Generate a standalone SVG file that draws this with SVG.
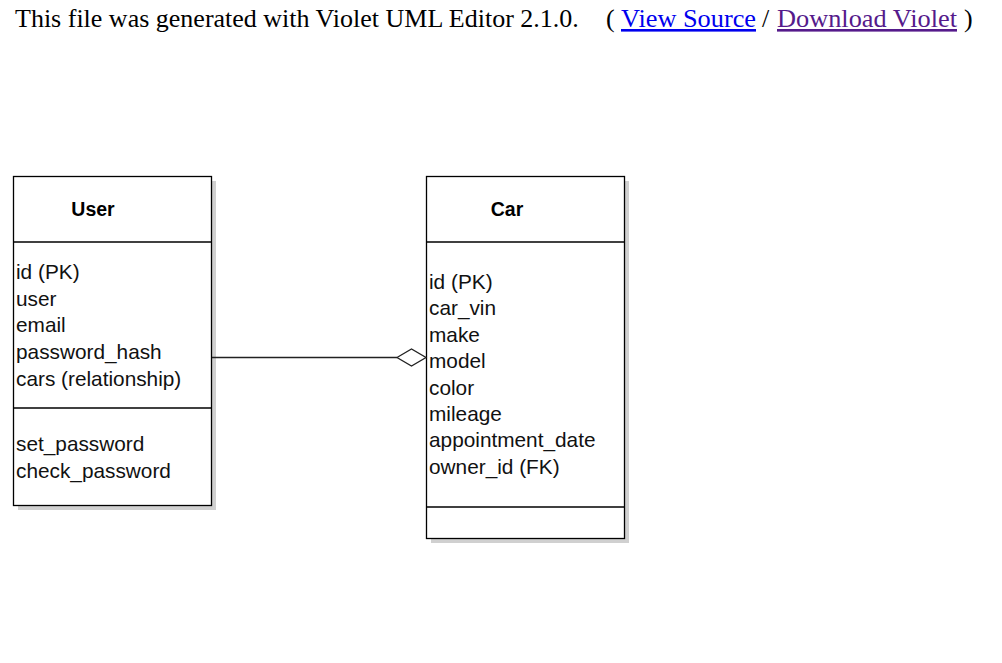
<svg xmlns="http://www.w3.org/2000/svg" width="1002" height="663" viewBox="0 0 1002 663">
<style>
.hdr{font-family:"Times New Roman","Liberation Serif",serif;font-size:26px;fill:#000}
.lnk{fill:#0000EE;text-decoration:underline}
.vis{fill:#551A8B;text-decoration:underline}
.box{fill:#fff;stroke:#000;stroke-width:1.3}
.shadow{fill:#d0d0d0}
.sep{stroke:#000;stroke-width:1.3}
.name{font-family:"Liberation Sans",Arial,sans-serif;font-size:19.5px;font-weight:bold;fill:#000}
.attr{font-family:"Liberation Sans",Arial,sans-serif;font-size:20.8px;fill:#111}
.edge{stroke:#222;stroke-width:1.3;fill:none}
</style>
<rect width="1002" height="663" fill="#fff"/>
<g id="header">
<text class="hdr" x="15" y="27">This file was generated with Violet UML Editor 2.1.0.</text>
<text class="hdr" x="606" y="27">(</text>
<text class="hdr lnk" x="621" y="27" textLength="135" lengthAdjust="spacingAndGlyphs">View Source</text>
<text class="hdr" x="762" y="27">/</text>
<text class="hdr vis" x="777" y="27" textLength="180" lengthAdjust="spacingAndGlyphs">Download Violet</text>
<text class="hdr" x="964" y="27">)</text>
</g>
<g id="User">
<rect class="shadow" x="18" y="181" width="198" height="329"/>
<rect class="box" x="13.5" y="176.5" width="198" height="329"/>
<line class="sep" x1="13.5" y1="242" x2="211.5" y2="242"/>
<line class="sep" x1="13.5" y1="408" x2="211.5" y2="408"/>
<text class="name" x="93" y="216" text-anchor="middle">User</text>
<text class="attr" x="16" y="279">id (PK)</text>
<text class="attr" x="16" y="305.7">user</text>
<text class="attr" x="16" y="332.4">email</text>
<text class="attr" x="16" y="359">password_hash</text>
<text class="attr" x="16" y="385.8">cars (relationship)</text>
<text class="attr" x="16" y="451">set_password</text>
<text class="attr" x="16" y="477.5">check_password</text>
</g>
<g id="Car">
<rect class="shadow" x="431" y="181" width="198" height="362"/>
<rect class="box" x="426.5" y="176.5" width="198" height="362"/>
<line class="sep" x1="426.5" y1="242" x2="624.5" y2="242"/>
<line class="sep" x1="426.5" y1="507" x2="624.5" y2="507"/>
<text class="name" x="507" y="216" text-anchor="middle">Car</text>
<text class="attr" x="429" y="289">id (PK)</text>
<text class="attr" x="429" y="315.4">car_vin</text>
<text class="attr" x="429" y="341.8">make</text>
<text class="attr" x="429" y="368.2">model</text>
<text class="attr" x="429" y="394.6">color</text>
<text class="attr" x="429" y="421">mileage</text>
<text class="attr" x="429" y="447.4">appointment_date</text>
<text class="attr" x="429" y="473.8">owner_id (FK)</text>
</g>
<g id="connectors">
<line class="edge" x1="212" y1="357.5" x2="397" y2="357.5"/>
<polygon class="edge" fill="#fff" points="397,357.5 411.5,349 426,357.5 411.5,366"/>
</g>
</svg>
